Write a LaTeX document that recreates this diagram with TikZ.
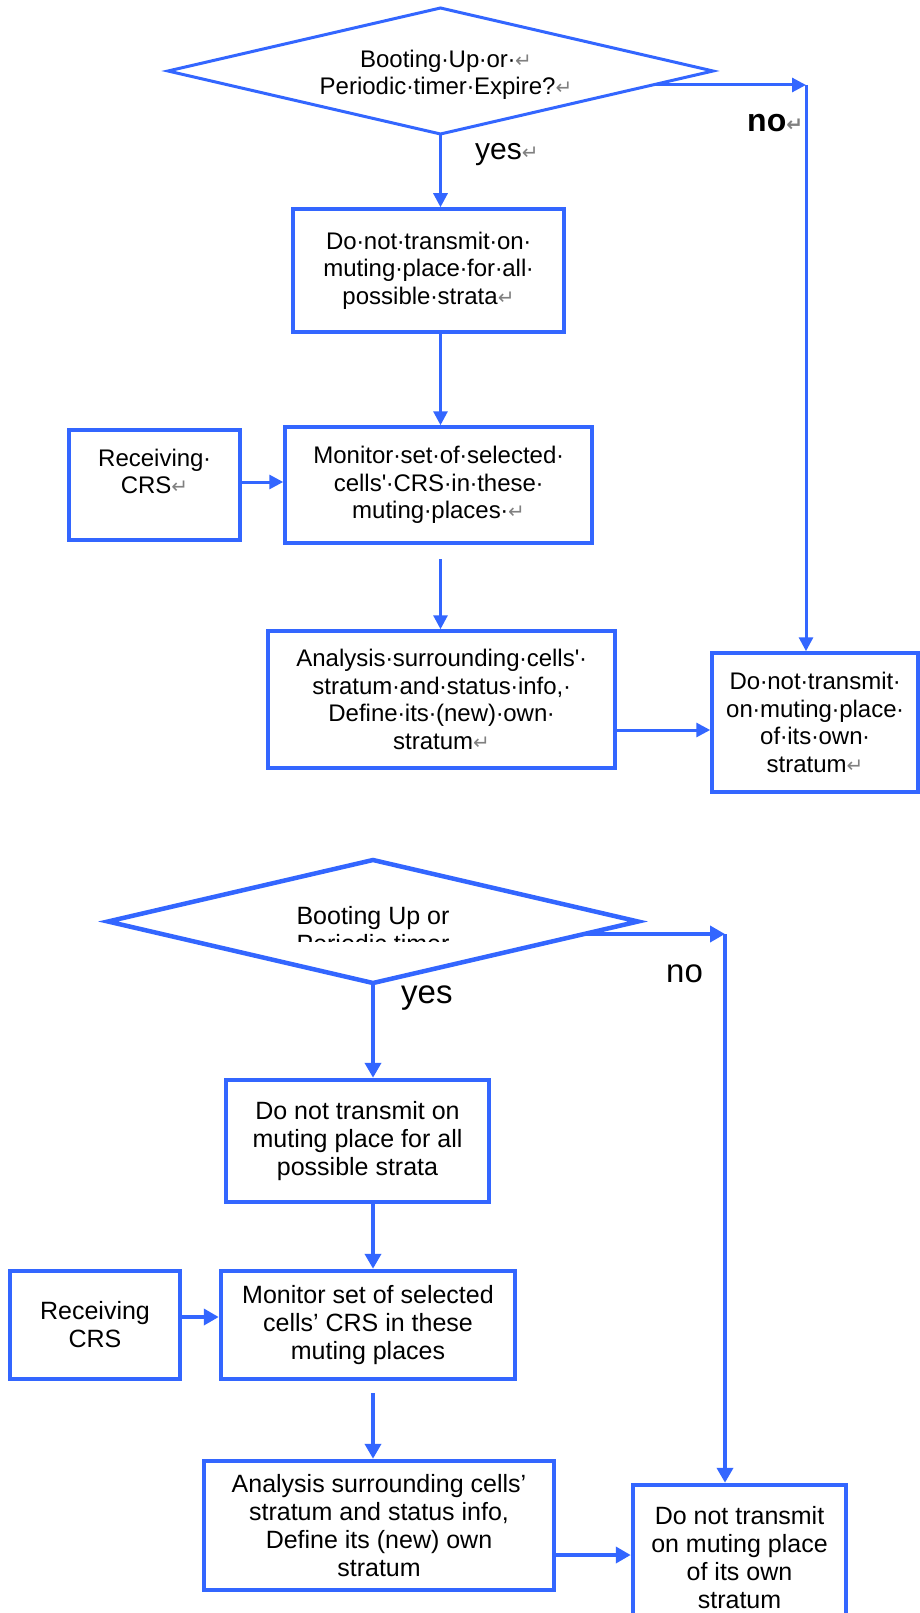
\documentclass[tikz,border=0pt]{standalone}
\usepackage{fontspec}
\setmainfont{Liberation Sans}
\newfontfamily\djv{DejaVu Sans}
\usetikzlibrary{arrows.meta,shapes.geometric}
\definecolor{fblue}{RGB}{51,102,255}
\newcommand\rt{{\color{black!50}\djv\fontsize{20}{20}\selectfont ↵}}
\newcommand\spd{\makebox[0.3em]{·}}
\tikzset{
  boxA/.style={draw=fblue, line width=3.5pt, fill=white, inner sep=0pt, align=center, font=\fontsize{24}{27.5}\selectfont},
  boxB/.style={draw=fblue, line width=4.5pt, fill=white, inner sep=0pt, align=center, font=\fontsize{25}{28}\selectfont},
  dia/.style={diamond, draw=fblue, fill=white, inner sep=0pt, outer sep=0pt},
  arrA/.style={draw=fblue, line width=3pt, -{Triangle[length=14pt,width=14pt]}},
  arrB/.style={draw=fblue, line width=4pt, -{Triangle[length=15pt,width=16pt]}},
  lbl/.style={anchor=base west, inner sep=0pt},
}
\begin{document}
\begin{tikzpicture}[x=1pt,y=-1pt]
\fill[white] (0,0) rectangle (920,1613);
\useasboundingbox (0,0) rectangle (920,1613);
% ---------------- top half ----------------
\node[dia, line width=3pt, minimum width=545pt, minimum height=126pt] (d1) at (440.5,71) {};
\node[font=\fontsize{24}{27}\selectfont, align=center] (d1t) at (446,75)
  {Booting\spd Up\spd or\spd\rt\\Periodic\spd timer\spd Expire?\rt};
\node[boxA, minimum width=271pt, minimum height=123pt] (b1) at (428.5,270.5)
  {Do\spd not\spd transmit\spd on\spd\\muting\spd place\spd for\spd all\spd\\possible\spd strata\rt};
\node[boxA, minimum width=307pt, minimum height=116pt] (m1) at (438.5,485)
  {Monitor\spd set\spd of\spd selected\spd\\cells\textquotesingle\spd CRS\spd in\spd these\spd\\muting\spd places\spd\rt};
\node[boxA, minimum width=171pt, minimum height=110pt] (r1) at (154.5,485)
  {Receiving\spd\\CRS\rt\\\mbox{}};
\node[boxA, minimum width=347pt, minimum height=137pt] (a1) at (441.5,699.5)
  {Analysis\spd surrounding\spd cells\textquotesingle\spd\\stratum\spd and\spd status\spd info,\spd\\Define\spd its\spd (new)\spd own\spd\\stratum\rt};
\node[boxA, minimum width=206pt, minimum height=139pt] (n1) at (815,722.5)
  {Do\spd not\spd transmit\spd\\on\spd muting\spd place\spd\\of\spd its\spd own\spd\\stratum\rt};
\node[lbl, font=\fontsize{30}{30}\selectfont] (yes1) at (475,160) {yes\rt};
\node[lbl, font=\fontsize{32}{32}\selectfont\bfseries] (no1) at (747,132) {no\rt};
\draw[arrA] (d1.south) -- (d1.south |- b1.north);
\draw[arrA] (d1.south |- b1.south) -- (d1.south |- m1.north);
\coordinate (nos1) at (655,85);
\coordinate (noc1) at (806,85);
\draw[arrA] (nos1) -- (noc1);
\draw[arrA] (noc1) -- (noc1 |- n1.north);
\draw[arrA] ([yshift=3pt]r1.east) -- ([yshift=3pt]r1.east -| m1.west);
\coordinate (mg1) at (440.5,559);
\draw[arrA] (mg1) -- (mg1 |- a1.north);
\draw[arrA] (a1.east |- 0,730) -- (n1.west |- 0,730);
% ---------------- bottom half ----------------
\node[dia, line width=4.5pt, minimum width=530pt, minimum height=123pt] (d2) at (373,921.5) {};
\begin{scope}
\clip (150,880) rectangle (600,941);
\node[font=\fontsize{25}{28}\selectfont, align=center] (d2t) at (373,930) {Booting Up or\\Periodic timer};
\end{scope}
\node[boxB, minimum width=263pt, minimum height=122pt] (b2) at (357.5,1141)
  {Do not transmit on\\muting place for all\\possible strata};
\node[boxB, minimum width=294pt, minimum height=108pt] (m2) at (368,1325)
  {Monitor set of selected\\cells’ CRS in these\\muting places};
\node[boxB, minimum width=170pt, minimum height=108pt] (r2) at (95,1325)
  {Receiving\\CRS};
\node[boxB, minimum width=350pt, minimum height=129pt] (a2) at (379,1525.5)
  {Analysis surrounding cells’\\stratum and status info,\\Define its (new) own\\stratum};
\node[boxB, minimum width=213pt, minimum height=146pt] (n2) at (739.5,1558)
  {Do not transmit\\on muting place\\of its own\\stratum};
\node[lbl, font=\fontsize{33}{33}\selectfont] (yes2) at (401,1003) {yes};
\node[lbl, font=\fontsize{33}{33}\selectfont] (no2) at (666,982) {no};
\draw[arrB] (d2.south) -- (d2.south |- b2.north);
\draw[arrB] (d2.south |- b2.south) -- (d2.south |- m2.north);
\coordinate (nos2) at (585,934);
\coordinate (noc2) at (725,934);
\draw[arrB] (nos2) -- (noc2);
\draw[arrB] (noc2) -- (noc2 |- n2.north);
\draw[arrB] ([yshift=8pt]r2.east) -- ([yshift=8pt]r2.east -| m2.west);
\coordinate (mg2) at (373,1393);
\draw[arrB] (mg2) -- (mg2 |- a2.north);
\draw[arrB] (a2.east |- 0,1555) -- (n2.west |- 0,1555);
\end{tikzpicture}
\end{document}
